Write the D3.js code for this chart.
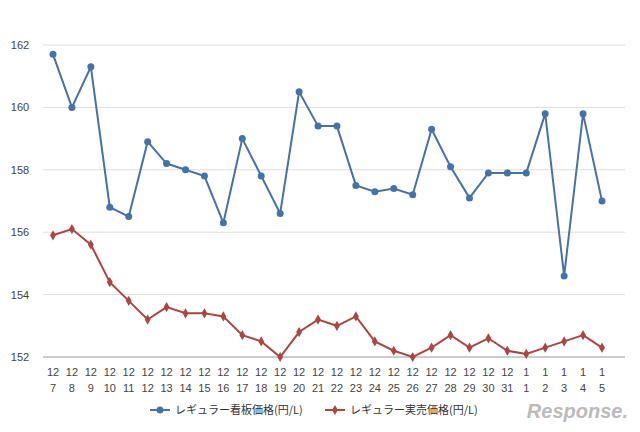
<!DOCTYPE html>
<html><head><meta charset="utf-8">
<script src="https://cdn.jsdelivr.net/npm/d3@7"></script>
<style>body{margin:0;background:#fff}svg{font-family:"Liberation Sans",Arial,sans-serif}</style>
</head><body><svg id="c" width="640" height="432"></svg>
<script>
const months=[12,12,12,12,12,12,12,12,12,12,12,12,12,12,12,12,12,12,12,12,12,12,12,12,12,1,1,1,1,1];
const days=[7,8,9,10,11,12,13,14,15,16,17,18,19,20,21,22,23,24,25,26,27,28,29,30,31,1,2,3,4,5];
const signboard=[161.7,160.0,161.3,156.8,156.5,158.9,158.2,158.0,157.8,156.3,159.0,157.8,156.6,160.5,159.4,159.4,157.5,157.3,157.4,157.2,159.3,158.1,157.1,157.9,157.9,157.9,159.8,154.6,159.8,157.0];
const actual=[155.9,156.1,155.6,154.4,153.8,153.2,153.6,153.4,153.4,153.3,152.7,152.5,152.0,152.8,153.2,153.0,153.3,152.5,152.2,152.0,152.3,152.7,152.3,152.6,152.2,152.1,152.3,152.5,152.7,152.3];
const yTicks=[152,154,156,158,160,162];
const names=["レギュラー看板価格(円/L)","レギュラー実売価格(円/L)"];
const colors=["#4572a7","#aa4643"];
const svg=d3.select("#c");
const idx=d3.range(days.length);
const x=d3.scalePoint().domain(idx).range([53,602]);
const y=d3.scaleLinear().domain([152,162]).range([357,45]);
svg.append("g").selectAll("line").data(yTicks).join("line")
 .attr("x1",43).attr("x2",625).attr("y1",d=>y(d)).attr("y2",d=>y(d))
 .attr("stroke",d=>d===152?"#999":"#ddd");
svg.append("g").selectAll("text").data(yTicks).join("text")
 .attr("x",20).attr("y",d=>y(d)+4).attr("text-anchor","middle").attr("font-size",11).attr("fill","#444").text(d=>d);
const xl=svg.append("g").selectAll("g").data(idx).join("g").attr("transform",i=>`translate(${x(i)},0)`);
xl.append("text").attr("y",376).attr("text-anchor","middle").attr("font-size",11).attr("fill","#444").text(i=>months[i]);
xl.append("text").attr("y",392).attr("text-anchor","middle").attr("font-size",11).attr("fill","#444").text(i=>days[i]);
const line=d3.line().x((d,i)=>x(i)).y(d=>y(d));
svg.append("path").datum(signboard).attr("d",line).attr("fill","none").attr("stroke",colors[0]).attr("stroke-width",2);
svg.append("path").datum(actual).attr("d",line).attr("fill","none").attr("stroke",colors[1]).attr("stroke-width",2);
svg.append("g").selectAll("circle").data(signboard).join("circle").attr("cx",(d,i)=>x(i)).attr("cy",d=>y(d)).attr("r",3.5).attr("fill",colors[0]);
svg.append("g").selectAll("path").data(actual).join("path").attr("transform",(d,i)=>`translate(${x(i)},${y(d)})`)
 .attr("d",d3.symbol(d3.symbolDiamond,30)()).attr("fill",colors[1]);
const lg=svg.append("g");
[[150,0],[325,1]].forEach(([lx,k])=>{
 lg.append("line").attr("x1",lx).attr("x2",lx+20).attr("y1",410).attr("y2",410).attr("stroke",colors[k]).attr("stroke-width",2);
 if(k===0)lg.append("circle").attr("cx",lx+10).attr("cy",410).attr("r",3.5).attr("fill",colors[0]);
 else lg.append("path").attr("transform",`translate(${lx+10},410)`).attr("d",d3.symbol(d3.symbolDiamond,30)()).attr("fill",colors[1]);
 lg.append("text").attr("x",lx+25).attr("y",414).attr("font-size",11).attr("fill","#333").attr("font-family","Noto Sans CJK JP").text(names[k]);
});
svg.append("text").attr("x",628).attr("y",418).attr("text-anchor","end").attr("font-size",20).attr("font-style","italic").attr("fill","#bbb").attr("font-weight","bold").text("Response.");
</script></body></html>
